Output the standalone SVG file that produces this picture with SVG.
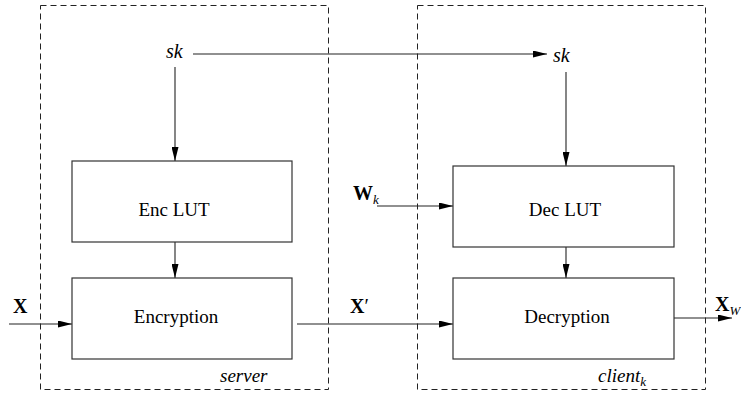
<svg xmlns="http://www.w3.org/2000/svg" width="741" height="394" viewBox="0 0 741 394">
  <defs>
    <marker id="arrow" viewBox="0 0 14 7" refX="14" refY="3.5" markerWidth="14" markerHeight="7" markerUnits="userSpaceOnUse" orient="auto">
      <path d="M0,0 L14,3.5 L0,7 Z" fill="#000"/>
    </marker>
    <style>
      text { font-family: 'Liberation Serif', 'DejaVu Serif', serif; fill: #000; }
      .zone { fill: none; stroke: #222; stroke-width: 1; stroke-dasharray: 6 4; }
      .box { fill: #fff; stroke: #333; stroke-width: 1.2; }
      .edge { fill: none; stroke: #222; stroke-width: 1.1; marker-end: url(#arrow); }
      .label { font-size: 19px; text-anchor: middle; }
      .var { font-size: 20px; font-style: italic; }
      .vec { font-size: 20px; font-weight: bold; }
      .sub { font-size: 13px; font-style: italic; font-weight: normal; }
      .zname { font-size: 19px; font-style: italic; }
    </style>
  </defs>
  <rect width="741" height="394" fill="#fff"/>

  <!-- trust zones -->
  <g id="server">
    <rect class="zone" x="40.5" y="5.5" width="288" height="384"/>
    <text class="zname" x="220" y="382" font-family="Liberation Serif, serif">server</text>
  </g>
  <g id="client">
    <rect class="zone" x="417.5" y="5.5" width="288" height="384"/>
    <text class="zname" x="598" y="382" font-family="Liberation Serif, serif">client<tspan class="sub" dy="4">k</tspan></text>
  </g>

  <!-- connectors -->
  <g id="connectors">
    <line class="edge" x1="193" y1="54" x2="547" y2="54"/>
    <line class="edge" x1="175" y1="67" x2="175" y2="161"/>
    <line class="edge" x1="175" y1="242" x2="175" y2="278"/>
    <line class="edge" x1="9" y1="324" x2="72" y2="324"/>
    <line class="edge" x1="297" y1="324" x2="453" y2="324"/>
    <line class="edge" x1="566" y1="72" x2="566" y2="166"/>
    <line class="edge" x1="377" y1="206" x2="453" y2="206"/>
    <line class="edge" x1="566" y1="247" x2="566" y2="278"/>
    <line class="edge" x1="670" y1="318" x2="732" y2="318"/>
  </g>

  <!-- server side -->
  <g id="sk-server">
    <text class="var" x="166" y="58" font-family="Liberation Serif, serif">sk</text>
  </g>
  <g id="enc-lut">
    <rect class="box" x="72" y="161" width="220" height="81"/>
    <text class="label" x="174" y="216" font-family="Liberation Serif, serif">Enc LUT</text>
  </g>
  <g id="encryption">
    <rect class="box" x="72" y="278" width="220" height="81"/>
    <text class="label" x="176" y="323" font-family="Liberation Serif, serif">Encryption</text>
  </g>
  <g id="input-x">
    <text class="vec" x="13" y="313" font-family="Liberation Serif, serif">X</text>
  </g>
  <g id="cipher-x">
    <text class="vec" x="350" y="313" font-family="Liberation Serif, serif">X<tspan font-weight="normal">′</tspan></text>
  </g>

  <!-- client side -->
  <g id="sk-client">
    <text class="var" x="553" y="62" font-family="Liberation Serif, serif">sk</text>
  </g>
  <g id="watermark">
    <text class="vec" x="353" y="200" font-family="Liberation Serif, serif">W<tspan class="sub" dy="4">k</tspan></text>
  </g>
  <g id="dec-lut">
    <rect class="box" x="453" y="166" width="221" height="81"/>
    <text class="label" x="565" y="216" font-family="Liberation Serif, serif">Dec LUT</text>
  </g>
  <g id="decryption">
    <rect class="box" x="453" y="278" width="221" height="81"/>
    <text class="label" x="567" y="323" font-family="Liberation Serif, serif">Decryption</text>
  </g>
  <g id="output-x">
    <text class="vec" x="715" y="311" font-family="Liberation Serif, serif">X<tspan class="sub" dy="4">W</tspan></text>
  </g>
</svg>
